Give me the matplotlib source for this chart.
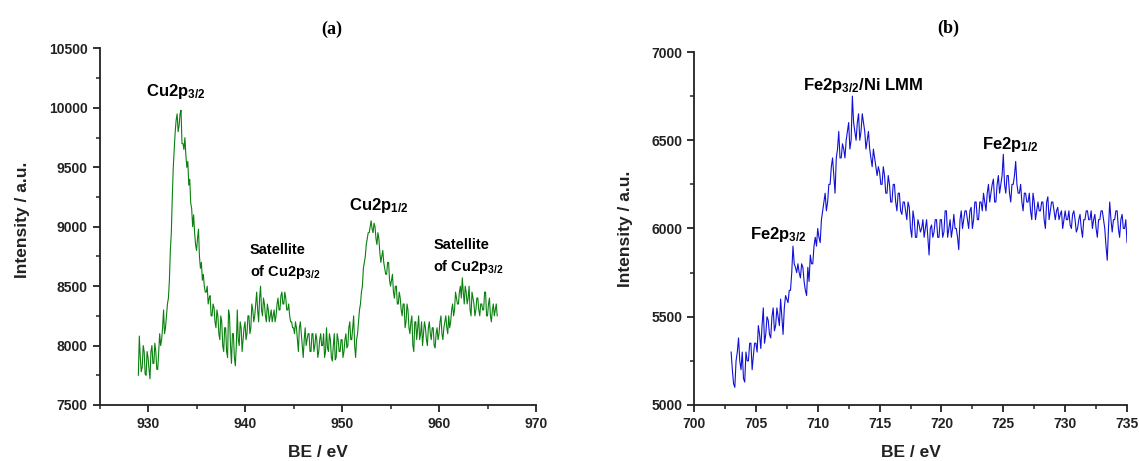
import matplotlib
matplotlib.use('Agg')
import numpy as np
import matplotlib.pyplot as plt
from matplotlib.ticker import MultipleLocator

plt.rcParams['font.family'] = ['Liberation Sans', 'DejaVu Sans']
plt.rcParams['font.weight'] = 'bold'
plt.rcParams['mathtext.fontset'] = 'custom'
plt.rcParams['mathtext.rm'] = 'Liberation Sans:bold'
plt.rcParams['mathtext.it'] = 'Liberation Sans:bold'
plt.rcParams['mathtext.bf'] = 'Liberation Sans:bold'
plt.rcParams['mathtext.default'] = 'rm'

# (a) Cu 2p spectrum, 929.0 .. 966.0 eV, step 0.1 eV (one row per eV)
int_a = [
    7750, 8080, 7900, 7780, 7820, 8000, 7950, 7760, 7750, 7950,
    7900, 7800, 7720, 7950, 8000, 7850, 7850, 8020, 7950, 7800,
    7800, 7950, 8100, 8000, 8050, 8150, 8300, 8100, 8150, 8250,
    8350, 8400, 8550, 8800, 8950, 9250, 9500, 9650, 9800, 9900,
    9950, 9800, 9850, 9950, 9980, 9700, 9700, 9650, 9750, 9600,
    9500, 9550, 9350, 9400, 9200, 9150, 9000, 9100, 8950, 8850,
    8800, 8900, 8980, 8750, 8650, 8700, 8550, 8600, 8500, 8450,
    8450, 8500, 8350, 8400, 8420, 8250, 8250, 8350, 8320, 8200,
    8150, 8300, 8250, 8100, 8050, 8250, 8200, 8000, 7950, 8150,
    8150, 7950, 7900, 8300, 8250, 8000, 7850, 8100, 8100, 7900,
    7830, 8000, 8300, 8050, 8000, 8200, 8150, 7950, 8050, 8150,
    8200, 8050, 8100, 8250, 8250, 8100, 8150, 8350, 8300, 8200,
    8250, 8350, 8450, 8300, 8200, 8400, 8500, 8300, 8250, 8400,
    8350, 8250, 8200, 8350, 8300, 8200, 8250, 8300, 8200, 8250,
    8300, 8200, 8250, 8350, 8400, 8300, 8300, 8420, 8450, 8350,
    8350, 8450, 8400, 8300, 8300, 8350, 8250, 8200, 8200, 8150,
    8150, 8100, 8200, 8150, 8050, 7950, 8150, 8200, 8100, 8000,
    7900, 8050, 8150, 8000, 8050, 8100, 8100, 7950, 7950, 8100,
    8100, 7950, 8000, 8100, 8050, 7900, 7950, 8050, 8100, 8000,
    8000, 8100, 7900, 7950, 8150, 7980, 7950, 8100, 8050, 7900,
    7870, 8000, 8100, 7880, 7900, 8100, 8050, 7950, 7950, 8050,
    8050, 7900, 7950, 8050, 8100, 7980, 8000, 8150, 8200, 8050,
    8050, 8150, 8250, 8000, 7900, 8050, 8100, 8200, 8300, 8350,
    8450, 8500, 8650, 8700, 8750, 8850, 8900, 8950, 8950, 9000,
    9050, 8980, 8950, 9030, 9000, 8900, 8850, 8950, 8900, 8780,
    8700, 8750, 8800, 8700, 8650, 8600, 8600, 8700, 8700, 8550,
    8500, 8550, 8600, 8450, 8400, 8500, 8500, 8350, 8350, 8450,
    8400, 8300, 8250, 8350, 8350, 8150, 8200, 8350, 8300, 8150,
    8100, 8200, 8250, 8000, 7950, 8200, 8200, 8050, 8150, 8250,
    8050, 8100, 8200, 8000, 8100, 8200, 8150, 8050, 8000, 8150,
    8200, 8100, 8050, 8150, 8150, 8000, 7980, 8100, 8150, 8050,
    8100, 8200, 8250, 8100, 8050, 8150, 8200, 8250, 8150, 8100,
    8250, 8150, 8200, 8300, 8350, 8250, 8300, 8450, 8400, 8350,
    8350, 8450, 8500, 8400, 8570, 8450, 8350, 8500, 8450, 8350,
    8400, 8500, 8300, 8250, 8450, 8400, 8350, 8250, 8300, 8400,
    8400, 8300, 8250, 8350, 8350, 8300, 8300, 8450, 8450, 8250,
    8250, 8350, 8400, 8250, 8200, 8300, 8350, 8250, 8300, 8350,
    8250,
]
be_a = np.linspace(929.0, 966.0, len(int_a))

# (b) Fe 2p spectrum, 703.0 .. 735.0 eV, step 0.1 eV (one row per eV)
int_b = [
    5300, 5200, 5120, 5100, 5250, 5300, 5380, 5250, 5200, 5300,
    5150, 5130, 5300, 5250, 5250, 5350, 5350, 5200, 5280, 5350,
    5350, 5300, 5450, 5400, 5320, 5450, 5550, 5350, 5400, 5500,
    5480, 5400, 5380, 5500, 5550, 5420, 5450, 5550, 5500, 5450,
    5600, 5500, 5400, 5550, 5620, 5600, 5580, 5650, 5650, 5750,
    5900, 5800, 5780, 5750, 5800, 5750, 5720, 5800, 5780, 5700,
    5650, 5620, 5780, 5700, 5850, 5800, 5800, 5900, 5950, 5900,
    6000, 5950, 5920, 6050, 6100, 6150, 6200, 6100, 6150, 6250,
    6250, 6350, 6400, 6300, 6200, 6400, 6450, 6550, 6400, 6400,
    6480, 6450, 6400, 6500, 6550, 6600, 6450, 6500, 6750, 6600,
    6550, 6500, 6600, 6650, 6500, 6550, 6650, 6600, 6550, 6450,
    6500, 6550, 6450, 6400, 6350, 6450, 6400, 6350, 6300, 6350,
    6320, 6250, 6250, 6350, 6300, 6200, 6200, 6300, 6250, 6150,
    6150, 6250, 6250, 6150, 6100, 6200, 6200, 6100, 6080, 6150,
    6150, 6100, 6050, 6150, 6120, 6000, 5950, 6100, 6050, 5950,
    5950, 6050, 6020, 5980, 6000, 6050, 5950, 6000, 6050, 5950,
    5850, 6000, 6020, 5950, 5980, 6050, 6050, 5950, 5950, 6050,
    6050, 5950, 5980, 6100, 6100, 5950, 6000, 6050, 5950, 6000,
    6080, 6000, 6000, 5950, 5880, 6050, 6100, 6000, 6050, 6100,
    6100, 6050, 6000, 6100, 6120, 6000, 6050, 6150, 6150, 6050,
    6050, 6150, 6150, 6100, 6200, 6150, 6100, 6200, 6250, 6150,
    6200, 6250, 6280, 6150, 6150, 6250, 6300, 6200, 6250, 6300,
    6420, 6250, 6200, 6300, 6300, 6200, 6150, 6250, 6250, 6300,
    6380, 6250, 6200, 6200, 6250, 6150, 6100, 6200, 6200, 6150,
    6150, 6200, 6100, 6050, 6200, 6150, 6050, 6100, 6150, 6100,
    6100, 6150, 6150, 6050, 6000, 6150, 6180, 6050, 6100, 6150,
    6150, 6100, 6050, 6100, 6120, 6050, 6080, 6100, 6000, 6050,
    6100, 6050, 6050, 6100, 6020, 6000, 6080, 6100, 6050, 5980,
    6000, 6050, 6080, 6000, 5950, 6050, 6050, 6100, 6100, 6050,
    6050, 6100, 6000, 6050, 6080, 6000, 5950, 6050, 6050, 6100,
    6100, 6050, 6000, 5900, 5820, 6000, 6150, 6050, 5980, 6050,
    6050, 6100, 6100, 6000, 5950, 6050, 6080, 6000, 6000, 6050,
    5920,
]
be_b = np.linspace(703.0, 735.0, len(int_b))

fig = plt.figure(figsize=(11.39, 4.61), dpi=100)
ax1 = fig.add_axes([0.0874, 0.1215, 0.3832, 0.7733])
ax2 = fig.add_axes([0.6093, 0.1215, 0.3802, 0.7657])

def style(ax):
    for s in ['top', 'right']:
        ax.spines[s].set_visible(False)
    for s in ['left', 'bottom']:
        ax.spines[s].set_linewidth(1.3)
        ax.spines[s].set_color('#222222')
    ax.tick_params(which='major', direction='out', length=5, width=1.3,
                   labelsize=10, colors='#222222')
    ax.tick_params(which='minor', direction='out', length=3, width=1.1,
                   colors='#222222')
    for lab in ax.get_xticklabels() + ax.get_yticklabels():
        lab.set_fontweight('bold')
    ax.set_xlabel('BE / eV', fontsize=12.5, fontweight='bold', color='#222222', labelpad=10)
    ax.set_ylabel('Intensity / a.u.', fontsize=12.5, fontweight='bold', color='#222222')

# ---- panel a
ax1.plot(be_a, int_a, color='#0a800f', lw=0.8)
ax1.set_xlim(925, 970)
ax1.set_ylim(7500, 10500)
ax1.set_xticks([930, 940, 950, 960, 970])
ax1.xaxis.set_minor_locator(MultipleLocator(5))
ax1.yaxis.set_major_locator(MultipleLocator(500))
ax1.yaxis.set_minor_locator(MultipleLocator(250))
style(ax1)
ax1.yaxis.set_label_coords(-0.16, 0.52)
ax1.text(0.533, 1.055, '(a)', transform=ax1.transAxes, ha='center', va='center',
         fontsize=13, fontweight='bold', family='Liberation Serif')
ax1.text(929.8, 10100, r'Cu2p$_{3/2}$', fontsize=12, fontweight='bold')
ax1.text(950.7, 9140, r'Cu2p$_{1/2}$', fontsize=12, fontweight='bold')
ax1.text(940.5, 8770, 'Satellite', fontsize=10.5, fontweight='bold')
ax1.text(940.5, 8585, r'of Cu2p$_{3/2}$', fontsize=10.5, fontweight='bold')
ax1.text(959.4, 8810, 'Satellite', fontsize=10.5, fontweight='bold')
ax1.text(959.4, 8627, r'of Cu2p$_{3/2}$', fontsize=10.5, fontweight='bold')

# ---- panel b
ax2.plot(be_b, int_b, color='#1010d8', lw=0.8)
ax2.set_xlim(700, 735)
ax2.set_ylim(5000, 7000)
ax2.xaxis.set_major_locator(MultipleLocator(5))
ax2.xaxis.set_minor_locator(MultipleLocator(2.5))
ax2.yaxis.set_major_locator(MultipleLocator(500))
ax2.yaxis.set_minor_locator(MultipleLocator(250))
style(ax2)
ax2.yaxis.set_label_coords(-0.14, 0.5)
ax2.text(0.587, 1.068, '(b)', transform=ax2.transAxes, ha='center', va='center',
         fontsize=13, fontweight='bold', family='Liberation Serif')
ax2.text(708.8, 6787, r'Fe2p$_{3/2}$/Ni LMM', fontsize=12, fontweight='bold')
ax2.text(723.3, 6448, r'Fe2p$_{1/2}$', fontsize=12, fontweight='bold')
ax2.text(704.5, 5942, r'Fe2p$_{3/2}$', fontsize=12, fontweight='bold')

fig.savefig('out.png', dpi=100)
